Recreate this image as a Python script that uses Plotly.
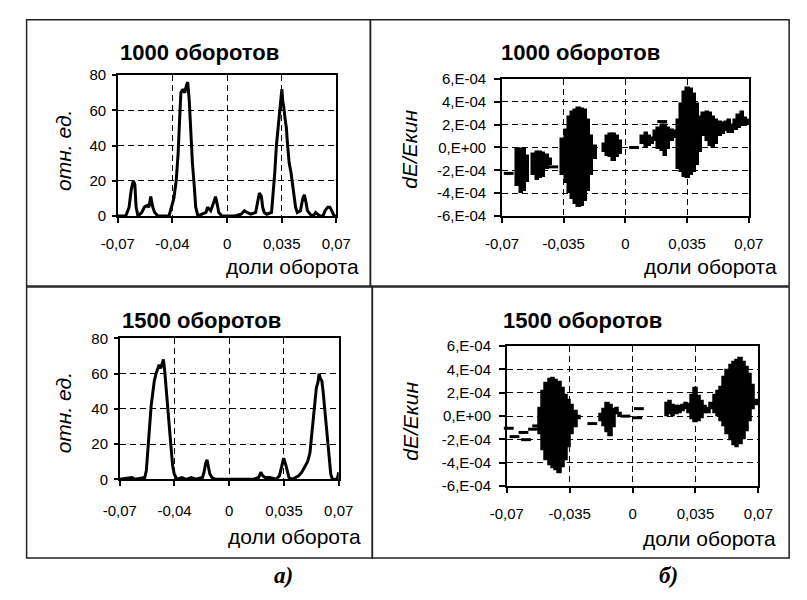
import plotly.graph_objects as go

# ---------------- data ----------------
# common x ticks (доли оборота)
x_tickvals = [-0.07, -0.035, 0, 0.035, 0.07]
x_ticktext_left = ["-0,07", "-0,04", "0", "0,035", "0,07"]
x_ticktext_right = ["-0,07", "-0,035", "0", "0,035", "0,07"]
y_tickvals_left = [0, 20, 40, 60, 80]
y_ticktext_left = ["0", "20", "40", "60", "80"]
y_tickvals_right = [-6e-4, -4e-4, -2e-4, 0, 2e-4, 4e-4, 6e-4]
y_ticktext_right = ["-6,E-04", "-4,E-04", "-2,E-04", "0,E+00", "2,E-04", "4,E-04", "6,E-04"]

# (a) 1000 оборотов — distribution
h1000_x = [-0.0700, -0.0649, -0.0628, -0.0614, -0.0601, -0.0591, -0.0583, -0.0571, -0.0546, -0.0530,
           -0.0511, -0.0501, -0.0489, -0.0476, -0.0464, -0.0443, -0.0372, -0.0357, -0.0341, -0.0326,
           -0.0314, -0.0304, -0.0296, -0.0283, -0.0271, -0.0261, -0.0252, -0.0242, -0.0232, -0.0222,
           -0.0211, -0.0201, -0.0187, -0.0135, -0.0125, -0.0115, -0.0105, -0.0084, -0.0074, -0.0064,
           -0.0053, -0.0033, 0.0049, 0.0090, 0.0111, 0.0127, 0.0152, 0.0183, 0.0197, 0.0207,
           0.0220, 0.0228, 0.0238, 0.0255, 0.0285, 0.0296, 0.0306, 0.0316, 0.0327, 0.0335,
           0.0343, 0.0351, 0.0357, 0.0363, 0.0372, 0.0380, 0.0388, 0.0398, 0.0409, 0.0419,
           0.0429, 0.0439, 0.0450, 0.0470, 0.0485, 0.0495, 0.0505, 0.0515, 0.0532, 0.0552,
           0.0567, 0.0577, 0.0593, 0.0614, 0.0628, 0.0645, 0.0659, 0.0671, 0.0686, 0.0700]
h1000_y = [0, 0, 5, 15, 20, 18, 5, 0, 2, 5,
           6, 5, 11, 5, 2, 0, 0, 5, 10, 20,
           35, 55, 70, 72, 70, 74, 76, 65, 45, 30,
           18, 5, 0, 2, 5, 4, 3, 8, 11, 7,
           2, 0, 0, 1, 3, 2, 1, 2, 8, 13,
           11, 5, 2, 1, 2, 12, 25, 40, 50, 60,
           66, 72, 65, 62, 55, 50, 40, 30, 25, 18,
           10, 5, 2, 3, 10, 12, 8, 3, 1, 0,
           2, 1, 0, 0, 3, 5, 5, 3, 0, 0]

# (a) 1500 оборотов — distribution
h1500_x = [-0.0700, -0.0622, -0.0602, -0.0540, -0.0530, -0.0520, -0.0509, -0.0499, -0.0489, -0.0479,
           -0.0468, -0.0458, -0.0448, -0.0438, -0.0427, -0.0421, -0.0413, -0.0403, -0.0393, -0.0382,
           -0.0372, -0.0362, -0.0352, -0.0335, -0.0304, -0.0274, -0.0243, -0.0212, -0.0171, -0.0161,
           -0.0151, -0.0142, -0.0134, -0.0124, -0.0110, -0.0089, -0.0007, 0.0075, 0.0157, 0.0188,
           0.0202, 0.0214, 0.0229, 0.0259, 0.0300, 0.0321, 0.0335, 0.0348, 0.0362, 0.0372,
           0.0382, 0.0403, 0.0423, 0.0444, 0.0464, 0.0485, 0.0501, 0.0516, 0.0526, 0.0536,
           0.0546, 0.0557, 0.0567, 0.0575, 0.0583, 0.0592, 0.0600, 0.0608, 0.0618, 0.0628,
           0.0639, 0.0649, 0.0659, 0.0690, 0.0700]
h1500_y = [0, 1, 0, 1, 5, 15, 30, 42, 50, 56,
           60, 62, 65, 63, 67, 68, 62, 50, 40, 28,
           18, 8, 3, 0, 1, 0, 1, 0, 1, 4,
           9, 11, 8, 3, 1, 0, 0, 0, 0, 1,
           4, 2, 1, 1, 0, 2, 8, 12, 8, 4,
           1, 0, 1, 2, 4, 7, 10, 15, 25, 35,
           45, 52, 55, 60, 57, 56, 50, 42, 30, 20,
           10, 3, 0, 0, 4]

# (б) 1000 оборотов — dE/Eкин point clouds: column centre, lower and upper edge
s1000_x = [-0.0609, -0.0591, -0.0573, -0.0555,
           -0.0518, -0.0500, -0.0482, -0.0464, -0.0445, -0.0427,
           -0.0355, -0.0336, -0.0318, -0.0300, -0.0282, -0.0264, -0.0245, -0.0227, -0.0209, -0.0191, -0.0173,
           -0.0118, -0.0100, -0.0082, -0.0064, -0.0045, -0.0027,
           0.0100, 0.0118, 0.0136, 0.0155, 0.0173, 0.0191, 0.0209, 0.0227, 0.0245, 0.0264, 0.0282,
           0.0300, 0.0318, 0.0336, 0.0355, 0.0373, 0.0391, 0.0409, 0.0427,
           0.0445, 0.0464, 0.0482, 0.0500, 0.0518, 0.0536, 0.0555, 0.0573, 0.0591, 0.0609, 0.0627,
           0.0645, 0.0664, 0.0682, 0.0700]
s1000_lo = [-3.41e-4, -3.98e-4, -3.83e-4, -2.98e-4,
            -2.41e-4, -2.84e-4, -2.70e-4, -2.56e-4, -1.85e-4, -1.56e-4,
            -2.41e-4, -3.12e-4, -3.98e-4, -4.54e-4, -4.97e-4, -5.20e-4, -5.11e-4, -4.69e-4, -3.83e-4, -2.41e-4, -0.99e-4,
            -0.43e-4, -0.71e-4, -0.85e-4, -1.14e-4, -0.85e-4, -0.57e-4,
            0.28e-4, 0.0, 0.14e-4, 0.28e-4, 0.57e-4, -0.14e-4, -0.28e-4, -0.71e-4, -0.14e-4, 0.57e-4, 0.85e-4,
            -1.85e-4, -2.13e-4, -2.56e-4, -2.64e-4, -2.41e-4, -2.13e-4, -1.56e-4, -0.43e-4,
            0.99e-4, 0.57e-4, 0.14e-4, 0.0, 0.28e-4, 0.99e-4, 1.14e-4, 1.42e-4, 1.28e-4, 1.28e-4, 1.56e-4,
            1.70e-4, 1.85e-4, 1.85e-4, 1.99e-4]
s1000_hi = [-0.10e-4, -0.14e-4, -0.14e-4, -0.71e-4,
            -0.57e-4, -0.37e-4, -0.43e-4, -0.48e-4, -0.65e-4, -0.99e-4,
            0.71e-4, 1.56e-4, 2.70e-4, 3.12e-4, 3.32e-4, 3.46e-4, 3.41e-4, 3.27e-4, 2.41e-4, 0.99e-4, 0.14e-4,
            0.28e-4, 0.99e-4, 1.14e-4, 1.14e-4, 0.99e-4, 0.57e-4,
            0.99e-4, 1.28e-4, 0.99e-4, 0.85e-4, 1.42e-4, 1.70e-4, 1.99e-4, 1.99e-4, 1.70e-4, 1.56e-4, 1.42e-4,
            2.41e-4, 3.83e-4, 4.83e-4, 5.25e-4, 5.11e-4, 4.69e-4, 3.83e-4, 2.70e-4,
            2.98e-4, 3.12e-4, 2.98e-4, 2.70e-4, 2.41e-4, 2.27e-4, 2.13e-4, 2.27e-4, 2.41e-4, 1.99e-4, 2.41e-4,
            2.84e-4, 3.12e-4, 2.56e-4, 2.41e-4]
s1000_dash_x = [-0.0662, -0.0409, 0.0049, 0.0209, 0.0714]
s1000_dash_y = [-2.27e-4, -1.70e-4, 0.0, 2.27e-4, 2.20e-4]

# (б) 1500 оборотов
s1500_x = [-0.0513, -0.0495, -0.0477, -0.0459, -0.0441, -0.0424, -0.0406, -0.0388, -0.0370, -0.0352, -0.0334, -0.0317, -0.0299,
           -0.0174, -0.0156, -0.0138, -0.0121, -0.0103, -0.0085, -0.0067,
           0.0192, 0.0209, 0.0227, 0.0245, 0.0263, 0.0281, 0.0298, 0.0316, 0.0334, 0.0352, 0.0370, 0.0388, 0.0406, 0.0423, 0.0441,
           0.0459, 0.0477, 0.0495, 0.0512, 0.0530, 0.0548, 0.0566, 0.0584, 0.0602, 0.0619, 0.0637, 0.0655, 0.0673, 0.0691]
s1500_lo = [-1.54e-4, -2.94e-4, -3.78e-4, -4.20e-4, -4.48e-4, -4.62e-4, -4.90e-4, -4.34e-4, -3.78e-4, -2.66e-4, -1.54e-4, -0.98e-4, -0.28e-4,
            -0.42e-4, -0.84e-4, -1.40e-4, -1.68e-4, -0.98e-4, 0.14e-4, 0.0,
            0.0, 0.14e-4, 0.0, 0.14e-4, 0.28e-4, 0.42e-4, 0.56e-4, 0.28e-4, -0.28e-4, -0.56e-4, -0.42e-4, -0.14e-4, 0.28e-4, 0.28e-4, 0.56e-4,
            0.28e-4, 0.0, -0.42e-4, -0.84e-4, -1.54e-4, -2.10e-4, -2.52e-4, -2.66e-4, -2.38e-4, -1.96e-4, -1.26e-4, -0.42e-4, 0.56e-4, 0.98e-4]
s1500_hi = [0.70e-4, 2.10e-4, 2.80e-4, 3.16e-4, 3.22e-4, 3.08e-4, 2.94e-4, 2.38e-4, 1.82e-4, 1.40e-4, 0.98e-4, 0.42e-4, 0.0,
            0.14e-4, 0.56e-4, 1.12e-4, 0.98e-4, 0.56e-4, 0.70e-4, 0.28e-4,
            1.12e-4, 1.26e-4, 0.98e-4, 0.84e-4, 0.84e-4, 0.98e-4, 1.12e-4, 1.04e-4, 1.82e-4, 2.38e-4, 1.68e-4, 1.26e-4, 0.84e-4, 0.70e-4, 1.12e-4,
            1.82e-4, 2.10e-4, 2.52e-4, 3.36e-4, 3.92e-4, 4.34e-4, 4.62e-4, 4.76e-4, 4.96e-4, 4.62e-4, 4.20e-4, 3.64e-4, 2.66e-4, 1.40e-4]
s1500_dash_x = [-0.0689, -0.0657, -0.0607, -0.0593, -0.0554, -0.0531, -0.0224, -0.0040, 0.0026, 0.0035, 0.0709]
s1500_dash_y = [-1.04e-4, -1.76e-4, -1.40e-4, -2.02e-4, -1.12e-4, -0.84e-4, -0.64e-4, 0.0, -0.14e-4, 0.64e-4, 1.12e-4]

titles = ["1000 оборотов", "1000 оборотов", "1500 оборотов", "1500 оборотов"]
x_title = "доли оборота"
y_title_left = "отн. ед."
y_title_right = "dE/Eкин"
panel_labels = ["а)", "б)"]

# ---------------- layout helpers (pixels -> paper) ----------------
W, H = 807, 600
def px(x):
    return x / W
def py(y):
    return 1 - y / H

FONT = "Liberation Sans, Arial, sans-serif"

fig = go.Figure()

# line charts
fig.add_trace(go.Scatter(x=h1000_x, y=h1000_y, mode="lines", xaxis="x", yaxis="y",
                         line=dict(color="black", width=3), cliponaxis=False, showlegend=False))
fig.add_trace(go.Scatter(x=h1500_x, y=h1500_y, mode="lines", xaxis="x3", yaxis="y3",
                         line=dict(color="black", width=3), cliponaxis=False, showlegend=False))

# point clouds drawn as columns
for cx, lo, hi, xa, ya in [(s1000_x, s1000_lo, s1000_hi, "x2", "y2"),
                           (s1500_x, s1500_lo, s1500_hi, "x4", "y4")]:
    fig.add_trace(go.Bar(x=cx, y=[h - l for h, l in zip(hi, lo)], base=lo, width=0.0019,
                         xaxis=xa, yaxis=ya, marker=dict(color="black", line=dict(color="black", width=1.5)),
                         showlegend=False))
for dx, dy, xa, ya in [(s1000_dash_x, s1000_dash_y, "x2", "y2"),
                       (s1500_dash_x, s1500_dash_y, "x4", "y4")]:
    fig.add_trace(go.Scatter(x=dx, y=dy, mode="markers", xaxis=xa, yaxis=ya, cliponaxis=False,
                             marker=dict(symbol="line-ew", size=7, line=dict(color="black", width=3)),
                             showlegend=False))

TICKSIZE = 15

def xaxis(dom, anchor, ticktext, standoff):
    return dict(domain=dom, anchor=anchor, range=[-0.07, 0.07], tickmode="array",
                tickvals=x_tickvals, ticktext=ticktext, ticks="outside", ticklen=5,
                tickcolor="black", tickwidth=1.5,
                showgrid=True, gridcolor="black", gridwidth=1.2, griddash="6px,4px",
                zeroline=False, showline=True, mirror=True, linecolor="black", linewidth=1.5,
                tickfont=dict(family=FONT, size=TICKSIZE, color="black"), ticklabelstandoff=standoff)

def yaxis(dom, anchor, rng, tv, tt, ticklen, standoff):
    return dict(domain=dom, anchor=anchor, range=rng, tickmode="array",
                tickvals=tv, ticktext=tt, ticks="outside", ticklen=ticklen,
                tickcolor="black", tickwidth=1.5,
                showgrid=True, gridcolor="black", gridwidth=1.2, griddash="6px,4px",
                zeroline=False, showline=True, mirror=True, linecolor="black", linewidth=1.5,
                tickfont=dict(family=FONT, size=TICKSIZE, color="black"), ticklabelstandoff=standoff)

fig.update_layout(
    width=W, height=H, margin=dict(l=0, r=0, t=0, b=0),
    paper_bgcolor="white", plot_bgcolor="white", barmode="overlay", bargap=0,
    xaxis=xaxis([px(105), px(332.5)], "y", x_ticktext_left, 8),
    yaxis=yaxis([py(213), py(68)], "x", [0, 80], y_tickvals_left, y_ticktext_left, 4, 3),
    xaxis2=xaxis([px(505), px(762)], "y2", x_ticktext_right, 8),
    yaxis2=yaxis([py(213), py(72)], "x2", [-6e-4, 6e-4], y_tickvals_right, y_ticktext_right, 6, 5),
    xaxis3=xaxis([px(107), px(335)], "y3", x_ticktext_left, 12),
    yaxis3=yaxis([py(484), py(339)], "x3", [0, 80], y_tickvals_left, y_ticktext_left, 4, 3),
    xaxis4=xaxis([px(510), px(772)], "y4", x_ticktext_right, 8),
    yaxis4=yaxis([py(491), py(347)], "x4", [-6e-4, 6e-4], y_tickvals_right, y_ticktext_right, 6, 5),
)

# panel frames
frames = [(10, 11, 368, 285), (368, 11, 804, 285), (10, 286, 370, 565), (370, 286, 804, 565)]
for x0, y0, x1, y1 in frames:
    fig.add_shape(type="rect", xref="paper", yref="paper", x0=px(x0), x1=px(x1), y0=py(y1), y1=py(y0),
                  line=dict(color="#222222", width=1.5), fillcolor="rgba(0,0,0,0)")

ann = []
# titles
for t, (cx, cy) in zip(titles, [(190, 45), (587, 45), (192, 321), (589, 321)]):
    ann.append(dict(text="<b>" + t + "</b>", x=px(cx), y=py(cy), xref="paper", yref="paper",
                    xanchor="center", yanchor="middle", showarrow=False,
                    font=dict(family=FONT, size=22, color="black")))
# x titles
for (rx, cy) in [(358, 265), (793, 265), (360, 543), (792, 545)]:
    ann.append(dict(text=x_title, x=px(rx), y=py(cy), xref="paper", yref="paper",
                    xanchor="right", yanchor="middle", showarrow=False,
                    font=dict(family=FONT, size=21, color="black")))
# y titles
for t, (cx, cy) in [(y_title_left, (49, 146)), (y_title_right, (409, 144)),
                    (y_title_left, (48, 416)), (y_title_right, (410, 424))]:
    ann.append(dict(text="<i>" + t + "</i>", x=px(cx), y=py(cy), xref="paper", yref="paper",
                    xanchor="center", yanchor="middle", showarrow=False, textangle=-90,
                    font=dict(family=FONT, size=21, color="black")))
# panel labels
for t, (cx, cy) in zip(panel_labels, [(278, 583), (678, 583)]):
    ann.append(dict(text="<b><i>" + t + "</i></b>", x=px(cx), y=py(cy), xref="paper", yref="paper",
                    xanchor="center", yanchor="middle", showarrow=False,
                    font=dict(family="Liberation Serif, Times New Roman, serif", size=23, color="black")))
fig.update_layout(annotations=ann)

fig.write_html("out.html")
